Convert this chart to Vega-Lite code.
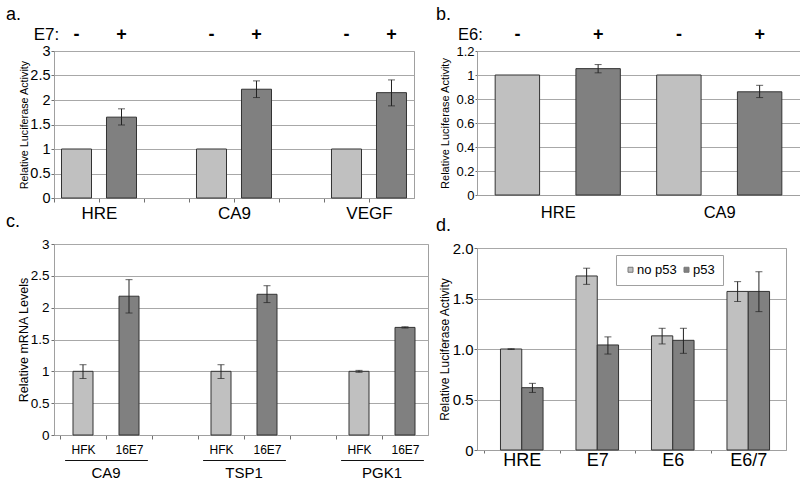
{
  "$schema": "https://vega.github.io/schema/vega-lite/v6.json",
  "padding": {"left": 5, "top": 5, "right": 0, "bottom": 0},
  "background": "white",
  "config": {
    "font": "Liberation Sans",
    "view": {"stroke": "#a0a0a0", "strokeWidth": 1},
    "axis": {"labelColor": "black", "titleColor": "black", "titleFontWeight": "normal", "gridColor": "#a8a8a8", "domainColor": "#a0a0a0", "tickColor": "#707070", "labelFont": "Liberation Sans", "titleFont": "Liberation Sans"},
    "title": {"font": "Liberation Sans", "fontWeight": "normal", "color": "black"},
    "legend": {"labelFont": "Liberation Sans"}
  },
  "datasets": {
    "a": [
      {"cat": "HRE -", "e7": "-", "value": 1.0, "lo": null, "hi": null},
      {"cat": "HRE +", "e7": "+", "value": 1.65, "lo": 1.49, "hi": 1.82},
      {"cat": "CA9 -", "e7": "-", "value": 1.0, "lo": null, "hi": null},
      {"cat": "CA9 +", "e7": "+", "value": 2.22, "lo": 2.05, "hi": 2.39},
      {"cat": "VEGF -", "e7": "-", "value": 1.0, "lo": null, "hi": null},
      {"cat": "VEGF +", "e7": "+", "value": 2.15, "lo": 1.88, "hi": 2.41}
    ],
    "b": [
      {"cat": "HRE -", "e6": "-", "value": 1.0, "lo": null, "hi": null},
      {"cat": "HRE +", "e6": "+", "value": 1.053, "lo": 1.018, "hi": 1.087},
      {"cat": "CA9 -", "e6": "-", "value": 1.0, "lo": null, "hi": null},
      {"cat": "CA9 +", "e6": "+", "value": 0.86, "lo": 0.812, "hi": 0.914}
    ],
    "c": [
      {"cat": "CA9 HFK", "cell": "HFK", "value": 1.0, "lo": 0.887, "hi": 1.104},
      {"cat": "CA9 16E7", "cell": "16E7", "value": 2.18, "lo": 1.916, "hi": 2.44},
      {"cat": "TSP1 HFK", "cell": "HFK", "value": 1.0, "lo": 0.887, "hi": 1.104},
      {"cat": "TSP1 16E7", "cell": "16E7", "value": 2.21, "lo": 2.08, "hi": 2.345},
      {"cat": "PGK1 HFK", "cell": "HFK", "value": 1.0, "lo": 0.985, "hi": 1.015},
      {"cat": "PGK1 16E7", "cell": "16E7", "value": 1.69, "lo": 1.68, "hi": 1.70}
    ],
    "d": [
      {"gene": "HRE", "p53": "no p53", "value": 1.0, "lo": 0.995, "hi": 1.003},
      {"gene": "HRE", "p53": "p53", "value": 0.617, "lo": 0.57, "hi": 0.66},
      {"gene": "E7", "p53": "no p53", "value": 1.723, "lo": 1.64, "hi": 1.80},
      {"gene": "E7", "p53": "p53", "value": 1.04, "lo": 0.95, "hi": 1.12},
      {"gene": "E6", "p53": "no p53", "value": 1.13, "lo": 1.05, "hi": 1.205},
      {"gene": "E6", "p53": "p53", "value": 1.086, "lo": 0.957, "hi": 1.205},
      {"gene": "E6/7", "p53": "no p53", "value": 1.57, "lo": 1.47, "hi": 1.667},
      {"gene": "E6/7", "p53": "p53", "value": 1.57, "lo": 1.37, "hi": 1.765}
    ]
  },
  "resolve": {"scale": {"color": "independent"}, "legend": {"color": "independent"}},
  "spacing": 6,
  "hconcat": [
    {
      "resolve": {"scale": {"color": "independent"}, "legend": {"color": "independent"}},
      "spacing": -10,
      "vconcat": [
        {
          "width": 360, "height": 147,
          "title": {"text": "a.", "anchor": "start", "frame": "group", "dx": -48, "fontSize": 18, "offset": 1},
          "data": {"name": "a"},
          "resolve": {"axis": {"x": "independent"}},
          "layer": [
            {
              "mark": {"type": "bar", "stroke": "#333333", "strokeWidth": 1},
              "encoding": {
                "x": {"field": "cat", "type": "nominal",
                  "scale": {"domain": ["HRE -", "HRE +", "gap1", "CA9 -", "CA9 +", "gap2", "VEGF -", "VEGF +"], "paddingInner": 0.333, "paddingOuter": 0.1667},
                  "axis": {"title": null, "tickOffset": -22.5, "labelAngle": 0, "labelFontSize": 17, "tickSize": 4, "labelPadding": 3,
                    "labelExpr": "datum.value == 'HRE +' ? 'HRE' : datum.value == 'CA9 +' ? 'CA9' : datum.value == 'VEGF +' ? 'VEGF' : ''"}},
                "y": {"field": "value", "type": "quantitative", "scale": {"domain": [0, 3]},
                  "axis": {"title": "Relative Luciferase Activity", "titleFontSize": 10.8, "titlePadding": 0, "values": [0, 0.5, 1, 1.5, 2, 2.5, 2.9999], "labelExpr": "format(round(datum.value * 2) / 2, '~g')", "labelOverlap": false, "labelFontSize": 14.5, "labelPadding": 1, "tickSize": 3}},
                "color": {"field": "e7", "type": "nominal", "scale": {"domain": ["-", "+"], "range": ["#c0c0c0", "#808080"]}, "legend": null}
              }
            },
            {
              "transform": [{"filter": "isValid(datum.lo)"}],
              "mark": {"type": "rule", "color": "#222222", "strokeWidth": 1},
              "encoding": {
                "x": {"field": "cat", "type": "nominal",
                  "axis": {"orient": "top", "title": "E7:", "titleAngle": 0, "titleX": -8, "titleY": -17, "titleBaseline": "middle", "titleAlign": "center", "titleFontSize": 17,
                    "ticks": false, "domain": false, "grid": false, "labelAngle": 0, "labelFontSize": 18, "labelFontWeight": "bold", "labelPadding": 8,
                    "labelExpr": "(datum.value == 'gap1' || datum.value == 'gap2') ? '' : slice(datum.value, -1)"}},
                "y": {"field": "lo", "type": "quantitative",
                  "axis": {"title": "Relative Luciferase Activity", "titleFontSize": 10.8, "titlePadding": 0, "values": [0, 0.5, 1, 1.5, 2, 2.5, 2.9999], "labelExpr": "format(round(datum.value * 2) / 2, '~g')", "labelOverlap": false, "labelFontSize": 14.5, "labelPadding": 1, "tickSize": 3}},
                "y2": {"field": "hi"}
              }
            },
            {
              "transform": [{"filter": "isValid(datum.lo)"}],
              "mark": {"type": "tick", "color": "#222222", "thickness": 1, "size": 7},
              "encoding": {
                "x": {"field": "cat", "type": "nominal", "axis": null},
                "y": {"field": "lo", "type": "quantitative",
                  "axis": {"title": "Relative Luciferase Activity", "titleFontSize": 10.8, "titlePadding": 0, "values": [0, 0.5, 1, 1.5, 2, 2.5, 2.9999], "labelExpr": "format(round(datum.value * 2) / 2, '~g')", "labelOverlap": false, "labelFontSize": 14.5, "labelPadding": 1, "tickSize": 3}}
              }
            },
            {
              "transform": [{"filter": "isValid(datum.lo)"}],
              "mark": {"type": "tick", "color": "#222222", "thickness": 1, "size": 7},
              "encoding": {
                "x": {"field": "cat", "type": "nominal", "axis": null},
                "y": {"field": "hi", "type": "quantitative",
                  "axis": {"title": "Relative Luciferase Activity", "titleFontSize": 10.8, "titlePadding": 0, "values": [0, 0.5, 1, 1.5, 2, 2.5, 2.9999], "labelExpr": "format(round(datum.value * 2) / 2, '~g')", "labelOverlap": false, "labelFontSize": 14.5, "labelPadding": 1, "tickSize": 3}}
              }
            }
          ]
        },
        {
          "width": 374, "height": 191,
          "title": {"text": "c.", "anchor": "start", "frame": "group", "dx": -48, "fontSize": 18, "offset": 6},
          "data": {"name": "c"},
          "resolve": {"axis": {"x": "independent"}},
          "layer": [
            {
              "mark": {"type": "bar", "stroke": "#333333", "strokeWidth": 1},
              "encoding": {
                "x": {"field": "cat", "type": "nominal",
                  "scale": {"domain": ["CA9 HFK", "CA9 16E7", "gap1", "TSP1 HFK", "TSP1 16E7", "gap2", "PGK1 HFK", "PGK1 16E7"], "paddingInner": 0.565, "paddingOuter": 0.3477, "align": 0.594},
                  "axis": {"title": null, "tickOffset": -23, "labelOffset": 23, "labelAngle": 0, "labelFontSize": 12, "tickSize": 4, "labelPadding": 5,
                    "labelExpr": "(datum.value == 'gap1' || datum.value == 'gap2') ? '' : slice(datum.value, indexof(datum.value, ' ') + 1)"}},
                "y": {"field": "value", "type": "quantitative", "scale": {"domain": [0, 3]},
                  "axis": {"title": "Relative mRNA Levels", "titleFontSize": 12.5, "titlePadding": 0, "values": [0, 0.5, 1, 1.5, 2, 2.5, 2.9999], "labelExpr": "format(round(datum.value * 2) / 2, '~g')", "labelOverlap": false, "labelFontSize": 13.5, "labelPadding": 2, "tickSize": 3}},
                "color": {"field": "cell", "type": "nominal", "scale": {"domain": ["HFK", "16E7"], "range": ["#c0c0c0", "#808080"]}, "legend": null}
              }
            },
            {
              "mark": {"type": "rule", "color": "#222222", "strokeWidth": 1},
              "encoding": {
                "x": {"field": "cat", "type": "nominal",
                  "axis": {"orient": "bottom", "offset": 25, "title": null, "ticks": false, "grid": false,
                    "domain": true, "domainColor": "#111111", "domainWidth": 1, "domainDash": [82.8, 55.2], "domainDashOffset": 127.4,
                    "labelAngle": 0, "labelFontSize": 15, "labelPadding": 5, "labelOffset": -23,
                    "labelExpr": "datum.value == 'CA9 16E7' ? 'CA9' : datum.value == 'TSP1 16E7' ? 'TSP1' : datum.value == 'PGK1 16E7' ? 'PGK1' : ''"}},
                "y": {"field": "lo", "type": "quantitative",
                  "axis": {"title": "Relative mRNA Levels", "titleFontSize": 12.5, "titlePadding": 0, "values": [0, 0.5, 1, 1.5, 2, 2.5, 2.9999], "labelExpr": "format(round(datum.value * 2) / 2, '~g')", "labelOverlap": false, "labelFontSize": 13.5, "labelPadding": 2, "tickSize": 3}},
                "y2": {"field": "hi"}
              }
            },
            {
              "mark": {"type": "tick", "color": "#222222", "thickness": 1, "size": 7},
              "encoding": {
                "x": {"field": "cat", "type": "nominal", "axis": null},
                "y": {"field": "lo", "type": "quantitative",
                  "axis": {"title": "Relative mRNA Levels", "titleFontSize": 12.5, "titlePadding": 0, "values": [0, 0.5, 1, 1.5, 2, 2.5, 2.9999], "labelExpr": "format(round(datum.value * 2) / 2, '~g')", "labelOverlap": false, "labelFontSize": 13.5, "labelPadding": 2, "tickSize": 3}}
              }
            },
            {
              "mark": {"type": "tick", "color": "#222222", "thickness": 1, "size": 7},
              "encoding": {
                "x": {"field": "cat", "type": "nominal", "axis": null},
                "y": {"field": "hi", "type": "quantitative",
                  "axis": {"title": "Relative mRNA Levels", "titleFontSize": 12.5, "titlePadding": 0, "values": [0, 0.5, 1, 1.5, 2, 2.5, 2.9999], "labelExpr": "format(round(datum.value * 2) / 2, '~g')", "labelOverlap": false, "labelFontSize": 13.5, "labelPadding": 2, "tickSize": 3}}
              }
            }
          ]
        }
      ]
    },
    {
      "resolve": {"scale": {"color": "independent"}, "legend": {"color": "independent"}},
      "spacing": -5,
      "vconcat": [
        {
          "width": 323, "height": 144,
          "title": {"text": "b.", "anchor": "start", "frame": "group", "dx": -41, "fontSize": 18, "offset": 1},
          "data": {"name": "b"},
          "resolve": {"axis": {"x": "independent"}},
          "layer": [
            {
              "mark": {"type": "bar", "stroke": "#333333", "strokeWidth": 1},
              "encoding": {
                "x": {"field": "cat", "type": "nominal",
                  "scale": {"domain": ["HRE -", "HRE +", "CA9 -", "CA9 +"], "paddingInner": 0.45, "paddingOuter": 0.225},
                  "axis": {"title": null, "tickOffset": -40.4, "labelAngle": 0, "labelFontSize": 16.5, "ticks": false, "labelPadding": 9,
                    "labelExpr": "datum.value == 'HRE +' ? 'HRE' : datum.value == 'CA9 +' ? 'CA9' : ''"}},
                "y": {"field": "value", "type": "quantitative", "scale": {"domain": [0, 1.2]},
                  "axis": {"title": "Relative Luciferase Activity", "titleFontSize": 11, "titlePadding": 5, "values": [0, 0.2, 0.4, 0.6, 0.8, 1, 1.2], "format": "~g", "labelOverlap": false, "labelFontSize": 13, "labelPadding": 1, "tickSize": 2}},
                "color": {"field": "e6", "type": "nominal", "scale": {"domain": ["-", "+"], "range": ["#c0c0c0", "#808080"]}, "legend": null}
              }
            },
            {
              "transform": [{"filter": "isValid(datum.lo)"}],
              "mark": {"type": "rule", "color": "#222222", "strokeWidth": 1},
              "encoding": {
                "x": {"field": "cat", "type": "nominal",
                  "axis": {"orient": "top", "title": "E6:", "titleAngle": 0, "titleX": -7, "titleY": -17, "titleBaseline": "middle", "titleAlign": "center", "titleFontSize": 16.5,
                    "ticks": false, "domain": false, "grid": false, "labelAngle": 0, "labelFontSize": 18, "labelFontWeight": "bold", "labelPadding": 8,
                    "labelExpr": "slice(datum.value, -1)"}},
                "y": {"field": "lo", "type": "quantitative",
                  "axis": {"title": "Relative Luciferase Activity", "titleFontSize": 11, "titlePadding": 5, "values": [0, 0.2, 0.4, 0.6, 0.8, 1, 1.2], "format": "~g", "labelOverlap": false, "labelFontSize": 13, "labelPadding": 1, "tickSize": 2}},
                "y2": {"field": "hi"}
              }
            },
            {
              "transform": [{"filter": "isValid(datum.lo)"}],
              "mark": {"type": "tick", "color": "#222222", "thickness": 1, "size": 7},
              "encoding": {
                "x": {"field": "cat", "type": "nominal", "axis": null},
                "y": {"field": "lo", "type": "quantitative",
                  "axis": {"title": "Relative Luciferase Activity", "titleFontSize": 11, "titlePadding": 5, "values": [0, 0.2, 0.4, 0.6, 0.8, 1, 1.2], "format": "~g", "labelOverlap": false, "labelFontSize": 13, "labelPadding": 1, "tickSize": 2}}
              }
            },
            {
              "transform": [{"filter": "isValid(datum.lo)"}],
              "mark": {"type": "tick", "color": "#222222", "thickness": 1, "size": 7},
              "encoding": {
                "x": {"field": "cat", "type": "nominal", "axis": null},
                "y": {"field": "hi", "type": "quantitative",
                  "axis": {"title": "Relative Luciferase Activity", "titleFontSize": 11, "titlePadding": 5, "values": [0, 0.2, 0.4, 0.6, 0.8, 1, 1.2], "format": "~g", "labelOverlap": false, "labelFontSize": 13, "labelPadding": 1, "tickSize": 2}}
              }
            }
          ]
        },
        {
          "width": 309, "height": 202,
          "title": {"text": "d.", "anchor": "start", "frame": "group", "dx": -41, "fontSize": 18, "offset": 6},
          "data": {"name": "d"},
          "layer": [
            {
              "mark": {"type": "bar", "stroke": "#333333", "strokeWidth": 1},
              "encoding": {
                "x": {"field": "gene", "type": "nominal",
                  "scale": {"domain": ["HRE", "E7", "E6", "E6/7"], "paddingInner": 0.436, "paddingOuter": 0.2644, "align": 0.588},
                  "axis": {"title": null, "tickOffset": -37.75, "labelOffset": 37.75, "labelAngle": 0, "labelFontSize": 18, "tickSize": 3, "labelPadding": -2}},
                "xOffset": {"field": "p53", "type": "nominal", "scale": {"domain": ["no p53", "p53"], "paddingInner": 0, "paddingOuter": 0}},
                "y": {"field": "value", "type": "quantitative", "scale": {"domain": [0, 2]},
                  "axis": {"title": "Relative Luciferase Activity", "titleFontSize": 12, "titlePadding": 1, "values": [0, 0.5, 1, 1.5, 2], "labelOverlap": false, "labelExpr": "datum.value == 0 ? '0' : format(datum.value, '.1f')", "labelFontSize": 15, "labelPadding": 1, "tickSize": 3}},
                "color": {"field": "p53", "type": "nominal", "scale": {"domain": ["no p53", "p53"], "range": ["#c0c0c0", "#808080"]},
                  "legend": {"title": null, "orient": "none", "legendX": 139, "legendY": 7, "direction": "horizontal", "symbolType": "square", "symbolSize": 25, "symbolStrokeColor": "#777777", "symbolStrokeWidth": 1, "labelFontSize": 13, "labelOffset": 0, "columnPadding": 3, "strokeColor": "#a0a0a0", "fillColor": "white", "padding": 8}}
              }
            },
            {
              "mark": {"type": "rule", "color": "#222222", "strokeWidth": 1},
              "encoding": {
                "x": {"field": "gene", "type": "nominal",
                  "axis": {"title": null, "tickOffset": -37.75, "labelOffset": 37.75, "labelAngle": 0, "labelFontSize": 18, "tickSize": 3, "labelPadding": -2}},
                "xOffset": {"field": "p53", "type": "nominal"},
                "y": {"field": "lo", "type": "quantitative",
                  "axis": {"title": "Relative Luciferase Activity", "titleFontSize": 12, "titlePadding": 1, "values": [0, 0.5, 1, 1.5, 2], "labelOverlap": false, "labelExpr": "datum.value == 0 ? '0' : format(datum.value, '.1f')", "labelFontSize": 15, "labelPadding": 1, "tickSize": 3}},
                "y2": {"field": "hi"}
              }
            },
            {
              "mark": {"type": "tick", "color": "#222222", "thickness": 1, "size": 7},
              "encoding": {
                "x": {"field": "gene", "type": "nominal",
                  "axis": {"title": null, "tickOffset": -37.75, "labelOffset": 37.75, "labelAngle": 0, "labelFontSize": 18, "tickSize": 3, "labelPadding": -2}},
                "xOffset": {"field": "p53", "type": "nominal"},
                "y": {"field": "lo", "type": "quantitative",
                  "axis": {"title": "Relative Luciferase Activity", "titleFontSize": 12, "titlePadding": 1, "values": [0, 0.5, 1, 1.5, 2], "labelOverlap": false, "labelExpr": "datum.value == 0 ? '0' : format(datum.value, '.1f')", "labelFontSize": 15, "labelPadding": 1, "tickSize": 3}}
              }
            },
            {
              "mark": {"type": "tick", "color": "#222222", "thickness": 1, "size": 7},
              "encoding": {
                "x": {"field": "gene", "type": "nominal",
                  "axis": {"title": null, "tickOffset": -37.75, "labelOffset": 37.75, "labelAngle": 0, "labelFontSize": 18, "tickSize": 3, "labelPadding": -2}},
                "xOffset": {"field": "p53", "type": "nominal"},
                "y": {"field": "hi", "type": "quantitative",
                  "axis": {"title": "Relative Luciferase Activity", "titleFontSize": 12, "titlePadding": 1, "values": [0, 0.5, 1, 1.5, 2], "labelOverlap": false, "labelExpr": "datum.value == 0 ? '0' : format(datum.value, '.1f')", "labelFontSize": 15, "labelPadding": 1, "tickSize": 3}}
              }
            }
          ]
        }
      ]
    }
  ]
}
